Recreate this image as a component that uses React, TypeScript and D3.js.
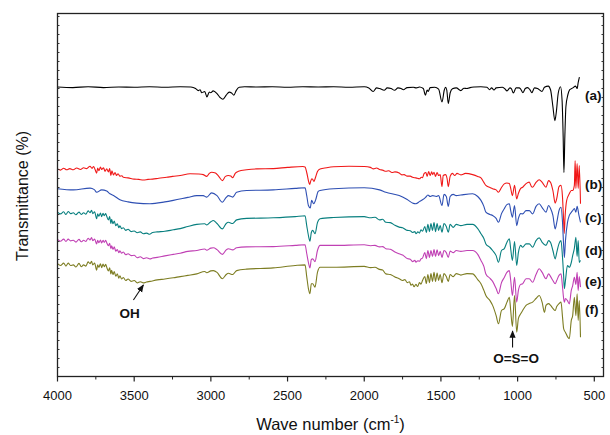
import React from "react";
import * as d3 from "d3";

// FTIR spectra, stacked. values are [wave number, transmittance (arb. offset)]
const specA = [
  [4000, 96.5], [3900, 96.3], [3800, 96.6], [3700, 96.3], [3600, 96.5], [3500, 96.4], [3400, 96.6],
  [3300, 96.4], [3200, 96.6], [3130, 96.5], [3100, 96.0], [3082, 95.3], [3070, 95.6], [3060, 94.6],
  [3040, 95.0], [3026, 93.2], [3010, 94.8], [3001, 94.6], [2985, 95.2], [2960, 94.3], [2940, 93.0],
  [2922, 92.4], [2900, 93.8], [2880, 94.8], [2865, 94.5], [2850, 93.8], [2835, 95.3], [2815, 96.4],
  [2780, 96.6], [2700, 96.5], [2600, 96.6], [2500, 96.4], [2400, 96.6], [2300, 96.5], [2200, 96.6],
  [2100, 96.4], [2000, 96.6], [1970, 96.2], [1942, 95.0], [1920, 96.2], [1900, 96.0], [1870, 95.4],
  [1850, 96.2], [1825, 96.0], [1802, 95.4], [1780, 96.2], [1760, 96.0], [1745, 95.6], [1720, 96.3],
  [1680, 96.4], [1660, 96.2], [1640, 96.5], [1615, 96.0], [1601, 93.8], [1590, 95.5], [1583, 95.0],
  [1570, 96.3], [1540, 96.4], [1515, 95.8], [1493, 91.5], [1478, 95.5], [1470, 96.4], [1462, 95.5],
  [1452, 91.0], [1440, 94.5], [1425, 95.9], [1400, 96.2], [1370, 95.3], [1350, 96.1], [1330, 96.0],
  [1310, 96.3], [1280, 96.5], [1240, 96.6], [1200, 96.4], [1182, 95.6], [1170, 96.2], [1154, 95.5],
  [1140, 96.2], [1100, 96.4], [1085, 96.0], [1069, 95.2], [1050, 96.2], [1040, 95.9], [1028, 94.5],
  [1010, 96.2], [990, 96.2], [980, 95.8], [965, 94.6], [950, 96.0], [935, 96.3], [920, 95.6],
  [907, 94.6], [890, 96.2], [870, 96.0], [841, 95.0], [825, 96.4], [800, 96.8], [785, 95.5],
  [770, 90.0], [757, 85.3], [748, 88.0], [735, 94.5], [720, 96.6], [710, 92.0], [703, 80.0],
  [698, 68.0], [692, 80.0], [685, 90.0], [672, 94.0], [660, 95.6], [640, 96.2], [622, 96.8],
  [612, 96.0], [605, 98.0], [597, 99.8],
];

const specB = [
  [4000, 69.2], [3980, 68.8], [3960, 69.4], [3940, 68.9], [3920, 69.3], [3897, 68.9], [3875, 69.5],
  [3850, 69.0], [3830, 69.6], [3810, 69.3], [3788, 70.1], [3775, 69.4], [3765, 70.0], [3755, 69.0],
  [3745, 67.8], [3738, 69.5], [3730, 68.6], [3720, 69.8], [3712, 69.0], [3700, 69.6], [3690, 68.4],
  [3679, 69.2], [3668, 68.2], [3660, 69.3], [3652, 67.0], [3645, 68.6], [3635, 67.2], [3625, 68.0],
  [3615, 67.0], [3605, 67.6], [3593, 66.8], [3580, 66.9], [3571, 66.4], [3540, 66.2], [3500, 65.8],
  [3470, 65.7], [3440, 65.5], [3410, 65.7], [3380, 65.8], [3340, 66.1], [3288, 66.4], [3250, 66.7],
  [3200, 67.0], [3136, 67.6], [3080, 67.5], [3050, 67.3], [3027, 66.7], [3010, 67.7], [2995, 68.1],
  [2970, 67.8], [2950, 66.8], [2925, 65.3], [2905, 66.7], [2886, 67.0], [2870, 66.8], [2858, 66.3],
  [2840, 67.8], [2820, 68.4], [2767, 68.9], [2700, 69.2], [2593, 69.3], [2500, 69.7], [2400, 70.0],
  [2386, 69.8], [2375, 68.0], [2364, 65.3], [2356, 64.0], [2348, 65.3], [2342, 65.9], [2336, 65.7],
  [2328, 65.0], [2320, 66.0], [2305, 68.3], [2288, 69.2], [2245, 69.6], [2200, 69.9], [2100, 70.1],
  [2000, 70.0], [1960, 69.7], [1940, 69.2], [1920, 69.5], [1900, 69.0], [1880, 68.8], [1859, 68.4],
  [1840, 68.6], [1820, 68.0], [1800, 68.2], [1772, 67.8], [1755, 67.2], [1740, 67.3], [1720, 66.8],
  [1700, 66.8], [1685, 66.4], [1663, 66.2], [1640, 65.9], [1628, 66.4], [1620, 66.3], [1610, 67.6],
  [1598, 68.0], [1590, 66.7], [1580, 68.3], [1570, 67.0], [1560, 68.2], [1554, 67.3], [1545, 68.1],
  [1535, 66.7], [1525, 68.0], [1515, 67.0], [1505, 67.3], [1493, 63.3], [1485, 67.0], [1470, 67.3],
  [1460, 66.0], [1452, 63.3], [1440, 66.7], [1425, 67.7], [1410, 67.0], [1395, 67.7], [1370, 67.2],
  [1340, 67.7], [1293, 67.3], [1260, 66.7], [1239, 66.2], [1220, 64.7], [1207, 63.7], [1180, 63.0],
  [1163, 62.6], [1140, 62.2], [1125, 61.4], [1105, 63.0], [1087, 64.2], [1070, 64.5], [1054, 64.3],
  [1045, 62.7], [1034, 60.3], [1020, 63.7], [1006, 59.2], [995, 61.0], [980, 62.7], [967, 63.1],
  [945, 64.3], [924, 64.8], [910, 63.3], [902, 63.1], [880, 64.7], [859, 65.6], [840, 64.7],
  [815, 63.1], [798, 65.3], [785, 64.7], [770, 62.0], [755, 57.8], [745, 59.3], [730, 63.3],
  [717, 63.7], [708, 60.3], [700, 52.0], [696, 47.7], [690, 53.7], [680, 58.7], [663, 60.9],
  [650, 62.0], [641, 62.0], [630, 63.7], [625, 72.0], [620, 62.7], [612, 71.0], [605, 62.7],
  [598, 70.3], [590, 57.6],
];

const specC = [
  [4000, 62.6], [3897, 62.2], [3788, 62.8], [3760, 62.3], [3745, 61.4], [3712, 62.2], [3679, 61.8],
  [3658, 60.9], [3630, 60.2], [3593, 58.9], [3540, 58.2], [3484, 57.8], [3397, 57.6], [3300, 58.2],
  [3245, 58.7], [3150, 59.7], [3092, 60.3], [3050, 60.3], [3027, 59.8], [2995, 61.2], [2960, 60.3],
  [2925, 58.1], [2900, 59.7], [2886, 60.3], [2858, 59.8], [2832, 61.4], [2767, 62.0], [2593, 62.2],
  [2450, 62.7], [2386, 62.9], [2375, 60.3], [2364, 57.0], [2352, 56.2], [2343, 58.7], [2330, 57.6],
  [2318, 58.7], [2300, 61.7], [2288, 62.0], [2200, 62.6], [2000, 62.9], [1900, 62.2], [1859, 61.4],
  [1772, 60.3], [1720, 59.0], [1680, 57.7], [1663, 57.6], [1640, 58.3], [1620, 58.9], [1600, 59.7],
  [1585, 60.5], [1570, 60.0], [1554, 60.3], [1530, 60.0], [1515, 60.3], [1493, 57.0], [1480, 60.7],
  [1465, 60.0], [1452, 56.7], [1440, 60.0], [1420, 60.7], [1400, 60.3], [1370, 60.5], [1293, 60.9],
  [1260, 60.0], [1239, 58.7], [1220, 56.7], [1207, 54.8], [1180, 54.0], [1163, 53.7], [1140, 52.7],
  [1125, 51.4], [1105, 54.3], [1087, 55.9], [1070, 57.3], [1054, 57.6], [1045, 55.3], [1034, 53.1],
  [1020, 57.0], [1006, 50.3], [995, 52.7], [980, 54.3], [967, 54.2], [945, 55.3], [924, 55.3],
  [902, 54.2], [880, 56.7], [859, 57.6], [840, 56.3], [815, 54.8], [798, 57.0], [785, 56.0],
  [770, 53.7], [755, 49.2], [745, 51.3], [730, 55.3], [717, 56.4], [708, 52.0], [700, 43.7],
  [695, 39.7], [688, 45.3], [675, 51.3], [663, 53.7], [650, 54.7], [641, 55.3], [630, 56.0],
  [620, 54.8], [612, 56.7], [600, 53.7], [590, 51.4],
];

const specD = [
  [4000, 54.8], [3980, 54.2], [3960, 54.9], [3945, 54.0], [3930, 55.0], [3915, 54.3], [3897, 54.6],
  [3880, 53.9], [3860, 54.8], [3845, 54.0], [3830, 54.6], [3815, 54.1], [3800, 55.2], [3788, 54.6],
  [3778, 55.4], [3770, 54.3], [3758, 54.9], [3745, 52.6], [3738, 54.2], [3730, 53.4], [3720, 54.5],
  [3712, 53.3], [3703, 54.4], [3695, 53.6], [3686, 54.3], [3679, 53.4], [3668, 52.2], [3660, 53.3],
  [3652, 51.0], [3647, 52.4], [3638, 50.9], [3630, 51.8], [3620, 50.3], [3610, 50.9], [3600, 49.6],
  [3593, 50.2], [3582, 49.3], [3571, 49.6], [3555, 48.7], [3540, 49.1], [3520, 48.3], [3500, 48.5],
  [3480, 47.9], [3460, 48.2], [3440, 47.6], [3418, 47.8], [3400, 47.4], [3380, 48.0], [3350, 48.2],
  [3300, 48.4], [3245, 48.9], [3200, 49.3], [3150, 50.0], [3092, 50.7], [3040, 50.9], [3027, 50.5],
  [3000, 51.6], [2984, 52.0], [2960, 51.0], [2925, 49.2], [2900, 51.0], [2886, 51.4], [2858, 51.0],
  [2832, 52.2], [2767, 52.7], [2593, 52.9], [2450, 53.3], [2386, 53.6], [2375, 50.3], [2364, 47.0],
  [2354, 45.1], [2345, 48.0], [2336, 48.7], [2321, 47.6], [2305, 51.3], [2288, 52.6], [2200, 53.0],
  [2000, 53.3], [1960, 52.9], [1930, 53.1], [1900, 52.2], [1880, 52.4], [1859, 51.4], [1830, 51.3],
  [1800, 50.4], [1772, 49.8], [1750, 49.6], [1720, 48.7], [1700, 48.6], [1685, 48.0], [1670, 48.3],
  [1663, 47.6], [1650, 48.2], [1640, 47.8], [1630, 48.9], [1620, 48.4], [1605, 50.0], [1595, 48.0],
  [1585, 50.7], [1575, 48.3], [1565, 51.0], [1555, 48.7], [1545, 51.3], [1535, 48.3], [1525, 51.0],
  [1515, 48.7], [1505, 50.3], [1493, 48.1], [1480, 51.0], [1465, 50.0], [1452, 48.1], [1440, 50.7],
  [1420, 49.7], [1400, 50.7], [1370, 50.3], [1330, 50.7], [1293, 50.7], [1260, 49.3], [1239, 47.6],
  [1220, 46.0], [1207, 44.2], [1180, 43.0], [1163, 42.0], [1140, 40.3], [1125, 38.1], [1105, 42.0],
  [1087, 42.6], [1070, 44.7], [1054, 45.9], [1045, 42.5], [1034, 38.7], [1020, 45.0], [1006, 37.0],
  [995, 41.3], [980, 43.7], [967, 43.1], [945, 44.2], [924, 44.2], [902, 43.1], [880, 45.3],
  [859, 46.2], [840, 44.7], [815, 43.7], [798, 45.3], [785, 44.7], [770, 42.0], [755, 39.2],
  [745, 41.3], [730, 44.3], [717, 45.3], [708, 40.3], [700, 33.7], [695, 29.3], [688, 32.0],
  [675, 37.0], [663, 36.4], [650, 38.0], [641, 40.3], [630, 42.7], [620, 46.4], [612, 40.0],
  [605, 45.3], [598, 38.0], [590, 38.7],
];

const specE = [
  [4000, 45.7], [3980, 45.1], [3960, 45.8], [3945, 45.0], [3930, 45.8], [3915, 45.2], [3897, 45.4],
  [3880, 44.8], [3860, 45.7], [3845, 44.9], [3830, 45.4], [3815, 45.0], [3800, 46.1], [3788, 45.5],
  [3778, 46.3], [3770, 45.3], [3758, 45.8], [3745, 44.2], [3738, 45.4], [3730, 44.6], [3720, 45.5],
  [3712, 44.5], [3703, 45.4], [3695, 44.7], [3686, 45.4], [3679, 44.6], [3668, 43.6], [3660, 44.4],
  [3652, 42.6], [3647, 43.6], [3638, 42.4], [3630, 43.2], [3620, 41.8], [3610, 42.3], [3600, 41.3],
  [3593, 41.9], [3582, 41.1], [3571, 41.5], [3555, 40.6], [3540, 40.9], [3520, 40.3], [3500, 40.4],
  [3480, 39.6], [3460, 39.9], [3440, 39.3], [3420, 39.6], [3397, 39.2], [3380, 39.5], [3350, 39.7],
  [3300, 40.2], [3245, 40.7], [3200, 41.1], [3150, 41.7], [3092, 42.0], [3040, 42.5], [3027, 42.1],
  [3000, 42.8], [2984, 42.9], [2960, 42.3], [2925, 40.7], [2900, 42.2], [2886, 42.6], [2858, 42.2],
  [2832, 42.9], [2767, 43.2], [2593, 43.3], [2450, 43.7], [2386, 43.9], [2375, 41.0], [2364, 38.0],
  [2354, 36.2], [2345, 39.0], [2336, 39.2], [2321, 38.3], [2305, 42.0], [2288, 43.7], [2200, 43.7],
  [2000, 43.9], [1960, 43.6], [1930, 43.7], [1900, 43.2], [1880, 43.3], [1859, 42.6], [1830, 42.4],
  [1800, 41.5], [1772, 40.9], [1750, 40.5], [1720, 39.3], [1700, 39.1], [1685, 38.3], [1670, 38.7],
  [1663, 38.1], [1650, 38.6], [1640, 38.4], [1630, 39.2], [1620, 39.5], [1605, 41.3], [1595, 39.3],
  [1585, 42.0], [1575, 39.7], [1565, 42.0], [1555, 40.0], [1545, 42.3], [1535, 40.0], [1525, 42.2],
  [1515, 40.3], [1505, 41.7], [1493, 39.7], [1480, 42.0], [1465, 41.3], [1452, 39.7], [1440, 41.8],
  [1420, 41.3], [1400, 42.0], [1370, 41.7], [1330, 42.0], [1293, 42.0], [1260, 40.7], [1239, 38.7],
  [1220, 36.7], [1207, 34.2], [1180, 32.7], [1163, 31.7], [1140, 29.3], [1125, 27.6], [1105, 31.3],
  [1087, 33.0], [1070, 34.7], [1054, 35.3], [1045, 32.0], [1034, 27.0], [1020, 33.1], [1006, 24.8],
  [995, 28.7], [980, 30.7], [967, 30.9], [945, 32.6], [924, 32.6], [902, 31.4], [880, 34.0],
  [859, 35.9], [840, 34.7], [815, 32.6], [798, 34.2], [785, 33.3], [770, 32.0], [755, 30.9],
  [745, 32.0], [730, 33.7], [717, 34.2], [708, 30.3], [700, 26.0], [695, 24.8], [688, 26.0],
  [675, 25.3], [663, 24.2], [650, 28.7], [641, 30.3], [630, 33.1], [620, 30.7], [612, 34.7],
  [605, 28.7], [598, 33.3], [590, 29.8],
];

const specF = [
  [4000, 37.6], [3980, 37.0], [3960, 37.8], [3945, 36.8], [3930, 37.8], [3915, 37.0], [3897, 37.2],
  [3880, 36.5], [3860, 37.7], [3845, 36.6], [3830, 37.2], [3815, 36.8], [3800, 38.2], [3788, 37.6],
  [3778, 38.4], [3770, 37.2], [3758, 37.8], [3745, 35.4], [3738, 37.2], [3730, 36.4], [3720, 37.6],
  [3712, 36.3], [3703, 37.5], [3695, 36.6], [3686, 37.4], [3679, 36.4], [3668, 35.2], [3660, 36.2],
  [3652, 34.2], [3647, 35.4], [3638, 34.0], [3630, 35.0], [3620, 33.4], [3610, 34.2], [3600, 32.8],
  [3593, 33.6], [3582, 32.5], [3571, 33.0], [3555, 32.0], [3540, 32.5], [3520, 31.7], [3500, 32.0],
  [3480, 31.2], [3460, 31.6], [3440, 31.2], [3420, 31.5], [3397, 31.7], [3350, 32.2], [3300, 32.5],
  [3245, 32.9], [3200, 33.3], [3150, 33.7], [3092, 34.2], [3040, 35.0], [3027, 34.6], [3000, 35.2],
  [2984, 35.3], [2960, 34.7], [2925, 32.6], [2900, 34.0], [2886, 34.4], [2858, 34.0], [2832, 35.3],
  [2767, 35.8], [2593, 36.2], [2450, 37.0], [2386, 37.2], [2375, 33.3], [2364, 29.3], [2354, 27.6],
  [2345, 30.9], [2336, 30.9], [2321, 29.8], [2305, 34.7], [2288, 36.4], [2200, 36.4], [2000, 36.7],
  [1960, 36.3], [1930, 36.4], [1900, 35.7], [1880, 35.5], [1859, 34.2], [1830, 34.0], [1800, 33.2],
  [1772, 32.6], [1750, 32.0], [1735, 32.3], [1720, 31.3], [1705, 31.6], [1695, 30.4], [1685, 30.8],
  [1675, 29.9], [1663, 30.7], [1652, 30.0], [1640, 31.3], [1630, 30.8], [1620, 32.0], [1605, 33.3],
  [1595, 31.0], [1585, 34.0], [1575, 31.3], [1565, 34.3], [1555, 31.7], [1545, 34.7], [1535, 31.7],
  [1525, 34.5], [1515, 32.0], [1505, 34.0], [1493, 31.3], [1480, 34.3], [1465, 33.3], [1452, 31.7],
  [1440, 34.0], [1420, 33.3], [1400, 34.3], [1370, 33.8], [1330, 34.3], [1293, 34.2], [1260, 32.3],
  [1239, 30.9], [1220, 28.7], [1207, 27.0], [1180, 25.3], [1163, 23.7], [1140, 20.3], [1125, 17.6],
  [1105, 22.0], [1087, 22.6], [1070, 24.7], [1054, 26.4], [1045, 22.0], [1034, 16.7], [1020, 27.0],
  [1006, 14.8], [995, 19.3], [980, 20.9], [967, 22.0], [945, 23.7], [924, 24.3], [902, 24.8],
  [880, 26.0], [859, 27.0], [840, 24.7], [825, 21.4], [815, 23.7], [798, 24.3], [785, 23.7],
  [770, 22.7], [755, 22.0], [745, 23.3], [730, 24.3], [717, 24.8], [708, 20.3], [700, 16.0],
  [695, 15.3], [688, 14.7], [675, 13.3], [663, 12.6], [650, 18.7], [641, 20.3], [630, 26.4],
  [620, 20.3], [612, 27.6], [605, 18.7], [598, 25.3], [590, 13.1],
];

const seriesData = [specA, specB, specC, specD, specE, specF];
const seriesLabels = ["(a)", "(b)", "(c)", "(d)", "(e)", "(f)"];
const labelValues = [93.7, 64.2, 53, 42, 31.7, 22.3];
const seriesColors = ["#000000", "#f01818", "#2e4fb3", "#087f7f", "#c040b4", "#7d7d22"];
const xTickValues = [4000, 3500, 3000, 2500, 2000, 1500, 1000, 500];

const W = 610;
const H = 435;
const M = { left: 57.5, right: 603.5, top: 13.5, bottom: 376.5 };
const FONT = "Arial, 'Liberation Sans', sans-serif";

export default function App() {
  const x = d3.scaleLinear().domain([4000, 440]).range([M.left, M.right]);
  const y = d3.scaleLinear().domain([0, 121]).range([M.bottom, M.top]);

  const line = d3
    .line<number[]>()
    .x((d) => x(d[0]))
    .y((d) => y(d[1]))
    .curve(d3.curveMonotoneX);

  const minorX = d3.range(3750, 440, -500);
  const yTicks = d3.range(3, 121, 3);

  return (
    <svg
      width={W}
      height={H}
      style={{ position: "absolute", left: 0, top: 0, background: "#fff" }}
      fontFamily={FONT}
    >
      {/* spectra */}
      {seriesData.map((s, i) => (
        <path
          key={i}
          d={line(s) || ""}
          fill="none"
          stroke={seriesColors[i]}
          strokeWidth={1.1}
          strokeLinejoin="round"
        />
      ))}

      {/* frame */}
      <rect
        x={M.left}
        y={M.top}
        width={M.right - M.left}
        height={M.bottom - M.top}
        fill="none"
        stroke="#222"
        strokeWidth={1.3}
      />

      {/* x ticks */}
      {xTickValues.map((t) => (
        <g key={t}>
          <line x1={x(t)} x2={x(t)} y1={M.bottom} y2={M.bottom + 5} stroke="#222" strokeWidth={1.2} />
          <text x={x(t)} y={M.bottom + 23} textAnchor="middle" fontSize={13} fill="#111">
            {t}
          </text>
        </g>
      ))}
      {minorX.map((t) => (
        <line key={t} x1={x(t)} x2={x(t)} y1={M.bottom} y2={M.bottom + 3} stroke="#222" strokeWidth={1} />
      ))}

      {/* y ticks, no labels */}
      {yTicks.map((t) => (
        <g key={t}>
          <line x1={M.left} x2={M.left + 2} y1={y(t)} y2={y(t)} stroke="#333" strokeWidth={1} />
          <line x1={M.right} x2={M.right - 2} y1={y(t)} y2={y(t)} stroke="#333" strokeWidth={1} />
        </g>
      ))}

      {/* series labels */}
      {seriesLabels.map((l, i) => (
        <text
          key={l}
          x={585}
          y={y(labelValues[i])}
          dy="0.35em"
          fontSize={13.5}
          fontWeight="bold"
          fill="#111"
        >
          {l}
        </text>
      ))}

      {/* annotations */}
      <defs>
        <marker id="ah" viewBox="0 0 10 10" refX="9" refY="5" markerWidth="7" markerHeight="7" orient="auto">
          <path d="M0,1 L10,5 L0,9 Z" fill="#111" />
        </marker>
      </defs>
      <line x1={x(3505)} y1={y(25.5)} x2={x(3440)} y2={y(30.5)} stroke="#111" strokeWidth={1.1} markerEnd="url(#ah)" />
      <text x={x(3530)} y={y(21)} dy="0.35em" textAnchor="middle" fontSize={13.5} fontWeight="bold" fill="#111">
        OH
      </text>
      <line x1={x(1033)} y1={y(9.7)} x2={x(1033)} y2={y(15.2)} stroke="#111" strokeWidth={1.1} markerEnd="url(#ah)" />
      <text x={x(1010)} y={y(6)} dy="0.35em" textAnchor="middle" fontSize={13.5} fontWeight="bold" fill="#111">
        O=S=O
      </text>

      {/* axis titles */}
      <text
        transform={`translate(22, 196) rotate(-90)`}
        textAnchor="middle"
        dy="0.35em"
        fontSize={16}
        fill="#111"
      >
        Transmittance (%)
      </text>
      <text x={(M.left + M.right) / 2} y={430} textAnchor="middle" fontSize={16.5} fill="#111">
        Wave number (cm
        <tspan dy={-7} fontSize={10}>-1</tspan>
        <tspan dy={7}>)</tspan>
      </text>
    </svg>
  );
}
